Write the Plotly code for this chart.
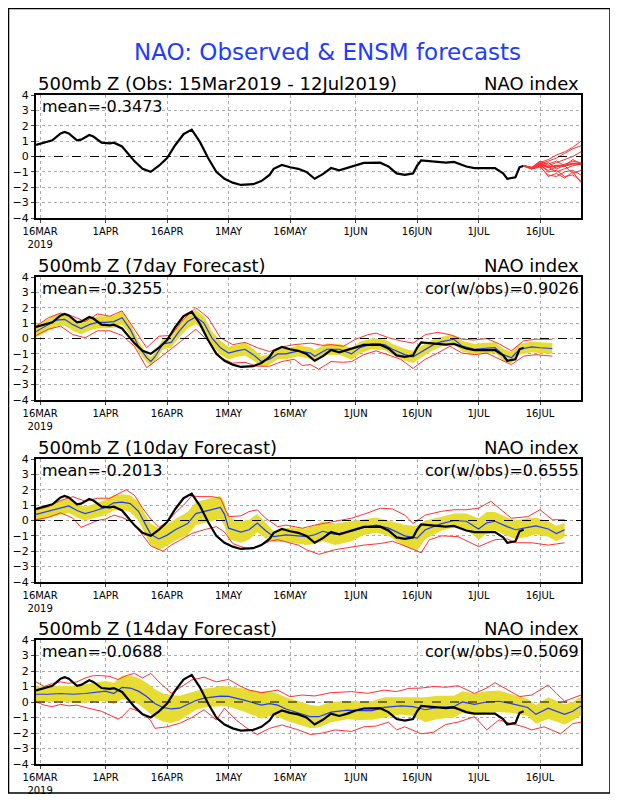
import plotly.graph_objects as go

# the page body has an 8px margin, so the figure is drawn 8px in from the window corner
OFF = 8
W, H = 618 - OFF, 800 - OFF

# x is days after 15 Mar 2019
tick_day = [1, 17, 32, 47, 62, 78, 93, 108, 123]
tick_text = ['16MAR<br>2019', '1APR', '16APR', '1MAY', '16MAY', '1JUN', '16JUN', '1JUL', '16JUL']

# observed NAO index
obs_day = [0, 2, 4, 6, 7, 8, 10, 11, 13, 14, 16, 18, 19, 21, 23, 24, 26, 28, 30, 32,
           34, 36, 38, 40, 42, 44, 46, 48, 50, 53, 55, 57, 58, 60, 62, 64, 66, 68, 70, 72,
           74, 76, 78, 80, 84, 86, 88, 90, 92, 93, 94, 96, 100, 102, 105, 107, 112, 114, 115, 117,
           118, 119]
obs_val = [0.75, 0.9, 1.05, 1.5, 1.6, 1.5, 1.05, 1.1, 1.4, 1.3, 0.9, 0.85, 0.9, 0.65, 0.05, -0.3, -0.8, -1.0, -0.6, -0.1,
           0.75, 1.45, 1.75, 0.95, -0.1, -1.0, -1.45, -1.7, -1.85, -1.8, -1.6, -1.2, -0.8, -0.55, -0.7, -0.8, -1.0, -1.45, -1.15, -0.75,
           -0.9, -0.75, -0.55, -0.42, -0.4, -0.65, -1.1, -1.2, -1.1, -0.6, -0.25, -0.3, -0.4, -0.35, -0.65, -0.75, -0.75, -1.1, -1.45, -1.35,
           -0.7, -0.6]

# ensemble forecast from 12Jul
ens_day = [119, 121, 123, 125, 127, 129, 131, 133]
ens_members = [
    [-0.6, -0.75, -0.4, -0.2, 0.1, 0.3, 0.6, 1.0],
    [-0.6, -0.8, -0.5, -0.3, -0.1, 0.2, 0.5, 0.7],
    [-0.6, -0.7, -0.3, -0.6, -0.4, -0.2, 0.0, 0.3],
    [-0.6, -0.8, -0.6, -0.9, -0.7, -0.5, -0.3, -0.4],
    [-0.6, -0.75, -0.4, -0.7, -1.0, -0.8, -0.6, -0.5],
    [-0.6, -0.8, -0.7, -1.2, -1.3, -1.0, -0.9, -1.2],
    [-0.6, -0.7, -0.5, -1.0, -0.9, -1.3, -1.2, -1.6],
    [-0.6, -0.8, -0.6, -0.4, -0.8, -0.6, -1.1, -0.9],
    [-0.6, -0.75, -0.3, -0.5, -0.3, -0.6, -0.2, -0.5],
    [-0.6, -0.8, -0.6, -1.3, -1.1, -1.4, -1.0, -1.7],
]
ens_mean = [-0.6, -0.77, -0.5, -0.7, -0.6, -0.6, -0.45, -0.5]

# 7 day forecast
f7_day = [0, 3, 5, 7, 9, 11, 13, 15, 17, 19, 21, 23, 25, 27, 28, 29, 31, 33, 35, 37,
          39, 41, 43, 45, 47, 49, 51, 53, 55, 57, 59, 61, 64, 67, 68, 71, 74, 77, 79, 82,
          85, 87, 90, 92, 95, 97, 99, 102, 104, 107, 109, 112, 114, 116, 118, 121, 123, 126]
f7_mean = [0.45, 0.9, 1.2, 1.25, 0.9, 0.65, 0.9, 1.05, 1.05, 1.1, 1.35, 0.6, -0.5, -1.25, -1.5, -1.2, -0.35, -0.25, 0.5, 1.1,
           1.4, 1.0, 0.0, -0.6, -0.95, -0.8, -0.7, -1.05, -1.5, -1.35, -1.0, -1.0, -0.8, -0.95, -1.15, -0.7, -0.7, -1.0, -0.6, -0.35,
           -0.4, -0.7, -1.05, -1.2, -0.7, -0.4, -0.2, -0.05, -0.5, -0.7, -0.65, -0.6, -1.05, -1.25, -0.7, -0.55, -0.6, -0.65]
f7_spread = [0.38, 0.4, 0.4, 0.4, 0.4, 0.38, 0.38, 0.4, 0.4, 0.42, 0.42, 0.4, 0.35, 0.3, 0.3, 0.32, 0.35, 0.35, 0.4, 0.45,
             0.45, 0.45, 0.45, 0.45, 0.42, 0.4, 0.4, 0.38, 0.35, 0.35, 0.35, 0.35, 0.35, 0.38, 0.4, 0.38, 0.35, 0.38, 0.38, 0.35,
             0.35, 0.35, 0.38, 0.4, 0.38, 0.35, 0.32, 0.3, 0.35, 0.35, 0.35, 0.35, 0.38, 0.38, 0.35, 0.35, 0.35, 0.35]
f7_hi_day = [0, 3, 6, 9, 12, 15, 18, 21, 24, 27, 30, 33, 36, 39, 42, 45, 48, 51, 54, 57,
             60, 63, 67, 70, 72, 75, 78, 81, 83, 86, 89, 92, 95, 98, 101, 104, 107, 110, 113, 116,
             119, 122, 126]
f7_hi = [0.8, 1.35, 1.65, 1.45, 1.1, 1.6, 1.45, 1.8, 0.6, -0.6, 0.15, 0.2, 1.25, 2.0, 1.35, 0.05, -0.4, -0.25, -0.6, -0.85,
         -0.55, -0.4, -0.3, -0.45, -0.4, -0.5, -0.05, 0.25, 0.35, 0.05, -0.15, -0.3, 0.25, 0.4, 0.25, -0.05, -0.1, 0.0, -0.35, -0.8,
         -0.15, -0.05, -0.05]
f7_lo_day = [0, 3, 6, 9, 12, 15, 18, 21, 24, 27, 30, 33, 36, 39, 42, 45, 48, 51, 54, 57,
             60, 63, 65, 67, 69, 72, 75, 77, 80, 83, 86, 89, 92, 95, 98, 101, 104, 107, 110, 113,
             116, 119, 122, 126]
f7_lo = [0.2, 0.6, 0.8, 0.25, 0.05, 0.5, 0.5, 0.2, -0.5, -1.9, -1.3, -0.7, -0.05, 0.6, -0.15, -1.25, -1.6, -1.55, -1.8, -1.8,
         -1.5, -1.35, -1.75, -1.7, -2.0, -1.5, -1.55, -1.5, -1.05, -0.8, -1.1, -1.35, -1.95, -1.35, -0.95, -0.5, -0.95, -1.05, -0.95, -1.35,
         -1.7, -1.15, -1.05, -1.15]

# 10 day forecast
f10_day = [0, 3, 6, 8, 10, 12, 14, 17, 19, 21, 23, 25, 27, 28, 30, 32, 34, 37, 39, 41,
           43, 45, 46, 47, 50, 52, 54, 56, 58, 61, 64, 66, 68, 70, 73, 77, 80, 83, 86, 90,
           93, 95, 99, 102, 105, 108, 110, 112, 115, 117, 120, 122, 125, 127, 129]
f10_mean = [0.4, 0.6, 0.85, 0.95, 0.65, 0.45, 0.6, 0.85, 1.15, 1.2, 1.1, 0.6, -0.4, -0.9, -1.2, -0.95, -0.6, -0.2, 0.45, 0.6,
            0.7, 0.85, 0.4, -0.5, -0.75, -0.6, -0.17, -0.65, -1.05, -0.93, -1.0, -1.05, -0.93, -0.7, -0.9, -0.7, -0.45, -0.3, -0.5, -1.0,
            -1.15, -0.6, -0.2, 0.0, -0.05, -0.55, -0.15, -0.05, -0.4, -0.6, -0.45, -0.35, -0.55, -0.85, -0.6]
f10_spread = [0.4, 0.4, 0.45, 0.45, 0.45, 0.45, 0.45, 0.5, 0.5, 0.5, 0.55, 0.6, 0.65, 0.7, 0.7, 0.7, 0.7, 0.75, 0.75, 0.75,
              0.75, 0.75, 0.75, 0.7, 0.7, 0.65, 0.6, 0.5, 0.35, 0.45, 0.5, 0.55, 0.6, 0.65, 0.7, 0.65, 0.5, 0.5, 0.5, 0.7,
              0.8, 0.6, 0.45, 0.45, 0.5, 0.7, 0.7, 0.6, 0.6, 0.6, 0.6, 0.55, 0.5, 0.5, 0.45]
f10_hi_day = [0, 3, 6, 9, 12, 15, 18, 20, 22, 24, 26, 28, 30, 32, 34, 36, 38, 40, 43, 45,
              47, 50, 52, 54, 56, 59, 61, 65, 68, 72, 77, 81, 84, 87, 90, 92, 95, 99, 102, 105,
              108, 111, 113, 116, 120, 123, 126, 129]
f10_hi = [0.7, 0.9, 1.3, 1.55, 1.25, 1.45, 1.45, 1.75, 2.0, 1.65, 0.8, 0.1, -0.45, -0.1, 0.5, 1.0, 1.6, 1.55, 1.55, 1.45,
          0.25, 0.3, 0.58, 0.7, 0.15, -0.4, -0.3, -0.5, -0.3, -0.1, 0.15, 0.5, 0.8, 0.75, 0.35, -0.2, 0.35, 0.6, 0.7, 0.7,
          0.8, 1.25, 0.8, 0.15, 0.25, 0.7, 0.05, 0.05]
f10_lo_day = [0, 3, 6, 9, 11, 13, 15, 17, 19, 21, 23, 25, 28, 31, 33, 35, 38, 41, 44, 46,
              48, 50, 52, 55, 57, 59, 61, 64, 66, 69, 73, 77, 80, 84, 87, 90, 94, 96, 99, 103,
              106, 108, 112, 115, 117, 121, 125, 129]
f10_lo = [0.05, 0.2, 0.5, 0.15, -0.45, -0.2, 0.0, 0.1, 0.35, 0.2, -0.05, -0.6, -1.65, -2.0, -1.6, -1.3, -0.85, -0.6, -0.4, -0.75,
          -1.5, -1.7, -1.85, -1.6, -1.35, -1.25, -1.4, -1.6, -1.9, -2.2, -1.9, -1.7, -1.6, -1.5, -1.35, -1.65, -2.1, -1.25, -1.0, -1.05,
          -1.45, -1.7, -1.25, -1.2, -1.45, -1.45, -1.6, -1.45]

# 14 day forecast
f14_day = [0, 3, 6, 9, 12, 15, 17, 19, 21, 23, 25, 27, 29, 31, 33, 35, 37, 39, 41, 43,
           45, 47, 49, 51, 53, 55, 57, 59, 61, 63, 65, 67, 69, 72, 76, 79, 82, 85, 89, 92,
           95, 98, 102, 104, 107, 110, 113, 116, 120, 122, 125, 129, 131, 133]
f14_mean = [0.5, 0.5, 0.55, 0.5, 0.55, 0.65, 0.7, 0.55, 0.95, 0.9, 0.7, 0.35, -0.1, -0.35, -0.45, -0.4, -0.15, 0.1, 0.25, 0.3,
            0.38, 0.36, 0.25, 0.1, -0.05, -0.2, -0.1, -0.2, -0.45, -0.6, -0.75, -0.95, -0.95, -0.65, -0.52, -0.56, -0.55, -0.35, -0.25, -0.3,
            -0.5, -0.35, -0.3, 0.0, -0.15, 0.0, 0.05, -0.1, -0.35, -0.8, -0.4, -0.8, -0.6, -0.25]
f14_spread = [0.5, 0.5, 0.5, 0.55, 0.6, 0.6, 0.65, 0.7, 0.75, 0.8, 0.85, 0.9, 0.92, 0.9, 0.9, 0.8, 0.7, 0.6, 0.6, 0.62,
              0.65, 0.65, 0.7, 0.75, 0.8, 0.86, 0.8, 0.75, 0.75, 0.75, 0.75, 0.75, 0.7, 0.65, 0.6, 0.6, 0.6, 0.65, 0.55, 0.6,
              0.8, 0.75, 0.7, 0.7, 0.7, 0.7, 0.7, 0.6, 0.55, 0.6, 0.7, 0.65, 0.6, 0.6]
f14_hi_day = [0, 2, 4, 6, 8, 10, 12, 14, 16, 18, 20, 22, 24, 26, 28, 30, 33, 35, 38, 41,
              44, 47, 50, 52, 55, 59, 62, 65, 68, 72, 77, 81, 85, 88, 91, 94, 97, 100, 103, 107,
              110, 112, 115, 118, 121, 125, 127, 129, 133]
f14_hi = [1.3, 1.0, 1.2, 1.3, 1.2, 1.3, 1.55, 1.7, 1.7, 1.65, 1.45, 1.7, 1.85, 1.55, 1.85, 1.3, 0.56, 0.9, 1.42, 1.6,
          1.3, 1.46, 1.0, 0.77, 0.6, 0.77, 0.34, 0.45, 0.39, 0.6, 0.67, 0.56, 0.77, 0.67, 0.88, 0.9, 1.0, 0.95, 1.05, 0.55,
          0.9, 1.25, 0.8, 0.35, 0.45, 1.1, 0.55, 0.05, 0.45]
f14_lo_day = [0, 2, 4, 6, 8, 10, 12, 14, 16, 18, 20, 21, 23, 25, 27, 28, 29, 32, 35, 38,
              41, 44, 46, 49, 51, 54, 57, 60, 64, 67, 70, 73, 77, 80, 83, 86, 88, 90, 94, 97,
              100, 103, 107, 110, 113, 116, 119, 121, 124, 128, 131, 133]
f14_lo = [0.0, -0.2, -0.3, -0.15, -0.25, -0.2, -0.35, -0.5, -0.6, -0.85, -1.1, -0.95, -0.4, -0.6, -0.95, -1.2, -1.7, -1.6, -1.38, -1.0,
          -0.5, -1.16, -0.4, -1.2, -1.6, -2.1, -1.7, -1.48, -1.8, -2.1, -2.0, -1.8, -1.9, -1.6, -1.55, -1.3, -1.8, -1.6, -2.05, -1.95,
          -1.45, -1.3, -0.95, -1.8, -1.15, -1.4, -1.6, -1.8, -1.6, -2.05, -1.4, -1.3]

panel_titles = ['500mb Z (Obs: 15Mar2019 - 12Jul2019)', '500mb Z (7day Forecast)',
                '500mb Z (10day Forecast)', '500mb Z (14day Forecast)']
panel_means = ['-0.3473', '-0.3255', '-0.2013', '-0.0688']
panel_cors = [None, '0.9026', '0.6555', '0.5069']

# panel top/bottom in window pixels
panel_px = [(95, 218), (277, 400), (459, 582), (640, 764)]
x_px = (36, 581)

YELLOW = 'rgb(230,220,50)'
RED = 'rgb(255,50,50)'
BLUE = 'rgb(30,60,255)'
FONT = 'DejaVu Sans'


def fx(px):
    return (px - OFF) / W


def fy(py):
    return 1 - (py - OFF) / H


fig = go.Figure()


def ax(i):
    return ('x', 'y') if i == 1 else ('x%d' % i, 'y%d' % i)


def add_forecast(i, day, mean, spread, hi_day, hi, lo_day, lo):
    xa, ya = ax(i)
    lower = [m - s for m, s in zip(mean, spread)]
    upper = [m + s for m, s in zip(mean, spread)]
    fig.add_trace(go.Scatter(x=day, y=lower, mode='lines', line=dict(width=0, color=YELLOW),
                             xaxis=xa, yaxis=ya, hoverinfo='skip'))
    fig.add_trace(go.Scatter(x=day, y=upper, mode='lines', line=dict(width=0, color=YELLOW),
                             fill='tonexty', fillcolor=YELLOW, xaxis=xa, yaxis=ya))
    fig.add_trace(go.Scatter(x=hi_day, y=hi, mode='lines', line=dict(width=1, color=RED), xaxis=xa, yaxis=ya))
    fig.add_trace(go.Scatter(x=lo_day, y=lo, mode='lines', line=dict(width=1, color=RED), xaxis=xa, yaxis=ya))
    fig.add_trace(go.Scatter(x=day, y=mean, mode='lines', line=dict(width=1.2, color=BLUE), xaxis=xa, yaxis=ya))


def add_obs(i):
    xa, ya = ax(i)
    fig.add_trace(go.Scatter(x=obs_day, y=obs_val, mode='lines', line=dict(width=2.2, color='black'),
                             xaxis=xa, yaxis=ya))


# panel 1: observed + ensemble members
add_obs(1)
for m in ens_members:
    fig.add_trace(go.Scatter(x=ens_day, y=m, mode='lines', line=dict(width=1, color=RED), xaxis='x', yaxis='y'))
fig.add_trace(go.Scatter(x=ens_day, y=ens_mean, mode='lines', line=dict(width=2, color=RED), xaxis='x', yaxis='y'))

add_forecast(2, f7_day, f7_mean, f7_spread, f7_hi_day, f7_hi, f7_lo_day, f7_lo)
add_obs(2)
add_forecast(3, f10_day, f10_mean, f10_spread, f10_hi_day, f10_hi, f10_lo_day, f10_lo)
add_obs(3)
add_forecast(4, f14_day, f14_mean, f14_spread, f14_hi_day, f14_hi, f14_lo_day, f14_lo)
add_obs(4)

annotations = [dict(text='NAO: Observed & ENSM forecasts', x=fx(327), y=fy(52), xref='paper', yref='paper',
                    xanchor='center', yanchor='middle', showarrow=False,
                    font=dict(family=FONT, size=23, color=BLUE))]
shapes = [dict(type='rect', xref='paper', yref='paper', x0=fx(8.5), x1=fx(610), y0=fy(793), y1=fy(8.5),
               line=dict(color='black', width=1.5))]

layout = dict(width=W, height=H, margin=dict(l=0, r=0, t=0, b=0, autoexpand=False), showlegend=False,
              plot_bgcolor='white', paper_bgcolor='white')

for i, (top, bot) in enumerate(panel_px, start=1):
    sfx = '' if i == 1 else str(i)
    xa, ya = ax(i)
    layout['xaxis' + sfx] = dict(domain=[fx(x_px[0]), fx(x_px[1])], range=[0, 133], anchor=ya, automargin=False,
                                 tickvals=tick_day, ticktext=tick_text, ticks='outside', ticklen=3,
                                 tickfont=dict(family=FONT, size=10, color='black'),
                                 showline=True, mirror=True, linewidth=2, linecolor='black',
                                 showgrid=True, gridcolor='rgb(170,170,170)', griddash='dot', gridwidth=1,
                                 zeroline=False)
    layout['yaxis' + sfx] = dict(domain=[fy(bot), fy(top)], range=[-4, 4], anchor=xa, automargin=False,
                                 tickvals=[-4, -3, -2, -1, 0, 1, 2, 3, 4], ticks='outside', ticklen=3,
                                 tickfont=dict(family=FONT, size=11, color='black'),
                                 showline=True, mirror=True, linewidth=2, linecolor='black',
                                 showgrid=True, gridcolor='rgb(170,170,170)', griddash='dot', gridwidth=1,
                                 zeroline=False)
    yd = 'y%s domain' % sfx
    xd = 'x%s domain' % sfx
    annotations.append(dict(text=panel_titles[i - 1], x=0, y=1, xref=xd, yref=yd, xanchor='left',
                            yanchor='bottom', yshift=-1, showarrow=False,
                            font=dict(family=FONT, size=18, color='black')))
    annotations.append(dict(text='NAO index', x=1, y=1, xref=xd, yref=yd, xanchor='right',
                            yanchor='bottom', yshift=-1, showarrow=False,
                            font=dict(family=FONT, size=18, color='black')))
    annotations.append(dict(text='mean=' + panel_means[i - 1], x=0, y=1, xref=xd, yref=yd, xanchor='left',
                            yanchor='top', xshift=4, yshift=0, showarrow=False,
                            font=dict(family=FONT, size=16, color='black')))
    if panel_cors[i - 1]:
        annotations.append(dict(text='cor(w/obs)=' + panel_cors[i - 1], x=1, y=1, xref=xd, yref=yd,
                                xanchor='right', yanchor='top', yshift=0, showarrow=False,
                                font=dict(family=FONT, size=16, color='black')))
    shapes.append(dict(type='line', xref=xd, yref=ya, x0=0, x1=1, y0=0, y1=0, layer='above',
                       line=dict(color='black', width=1, dash='dash')))

layout['annotations'] = annotations
layout['shapes'] = shapes
fig.update_layout(**layout)

fig.write_html('out.html')
